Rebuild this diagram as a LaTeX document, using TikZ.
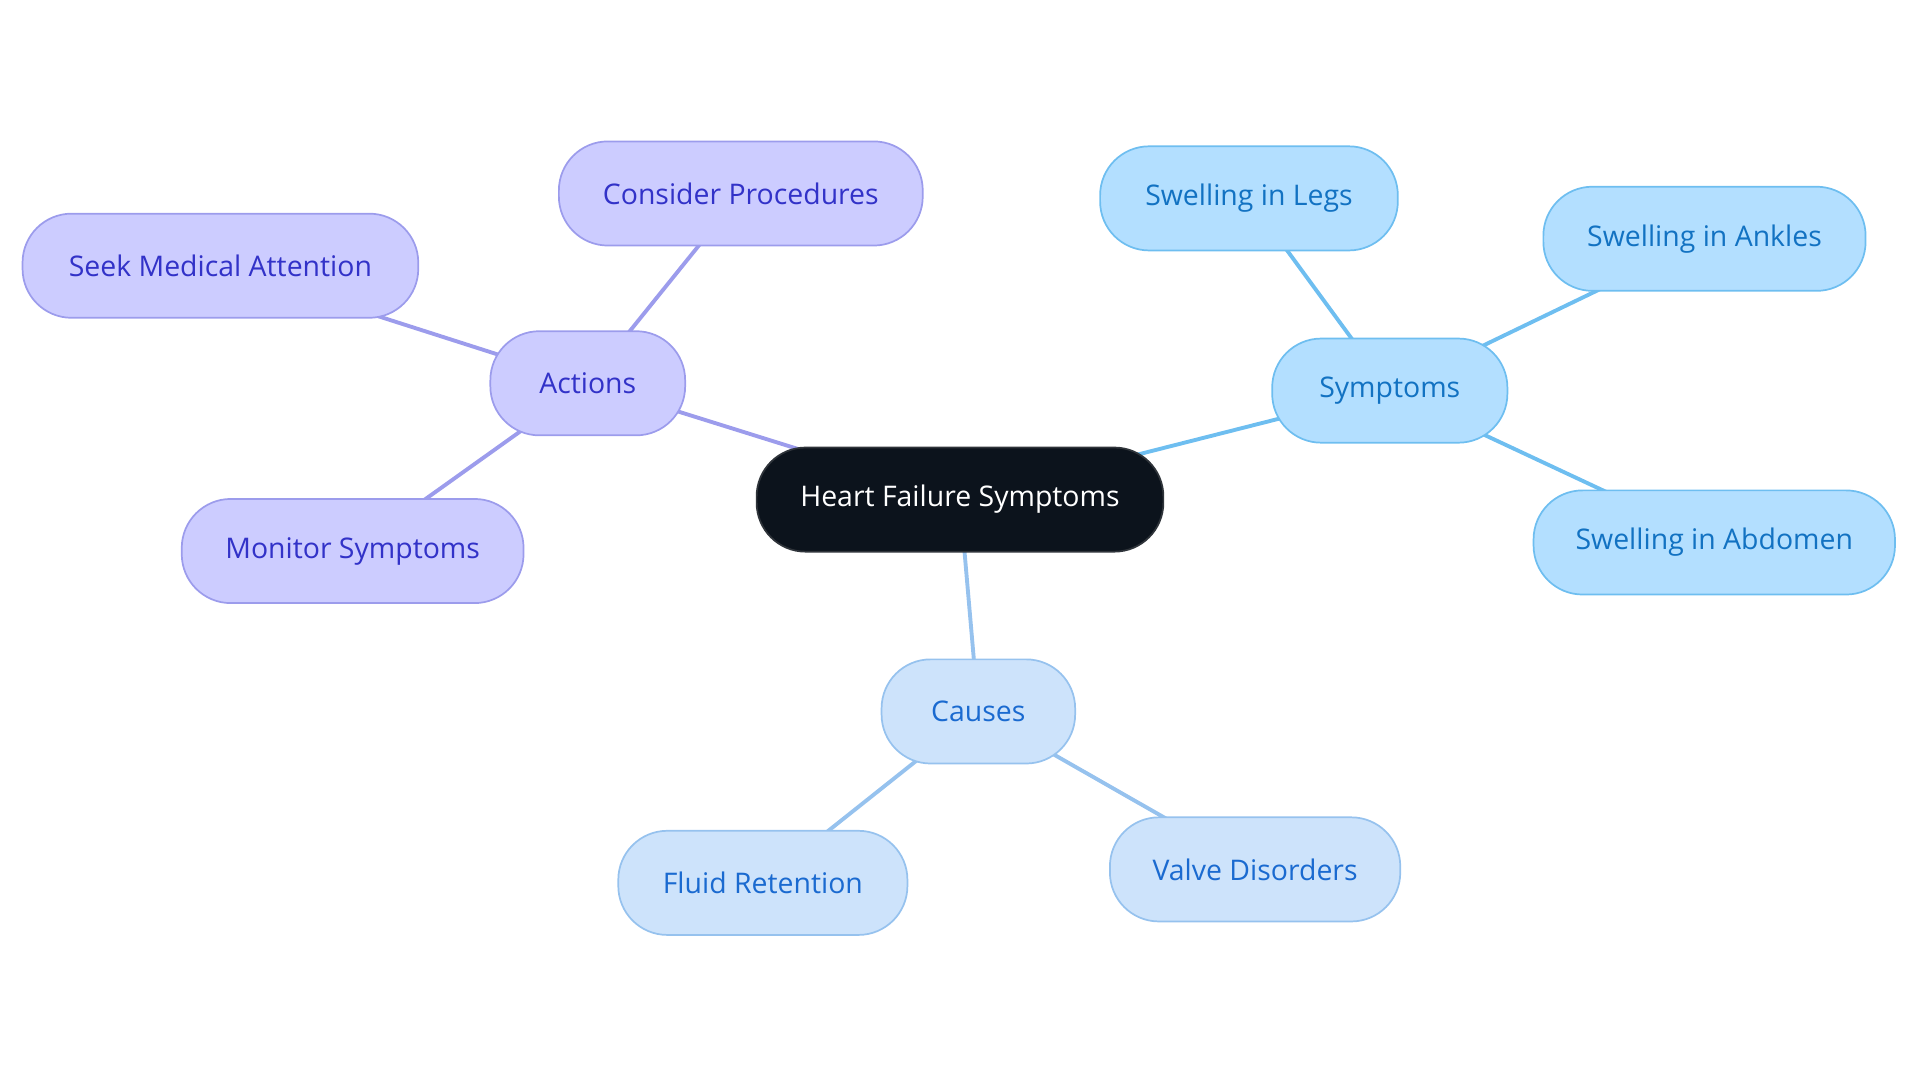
\documentclass[tikz,border=0pt]{standalone}
\usepackage{fontspec}
\setmainfont{Open Sans}
\usetikzlibrary{backgrounds}
\definecolor{aF}{HTML}{CCCCFF}\definecolor{aD}{HTML}{9C9CEC}\definecolor{aT}{HTML}{3232C8}
\definecolor{sF}{HTML}{B3DFFF}\definecolor{sD}{HTML}{6EBEF0}\definecolor{sT}{HTML}{1272C2}
\definecolor{cF}{HTML}{CDE3FB}\definecolor{cD}{HTML}{96C2EE}\definecolor{cT}{HTML}{1A6AD0}
\definecolor{root}{HTML}{0C131C}
\begin{document}
\begin{tikzpicture}[x=0.01cm,y=-0.01cm,
 b/.style={rounded corners=0.4cm,minimum height=0.85cm,font=\fontsize{6.6pt}{8pt}\selectfont,line width=0.4pt,inner sep=0pt},
 A/.style={b,fill=aF,draw=aD,text=aT},
 S/.style={b,fill=sF,draw=sD,text=sT},
 C/.style={b,fill=cF,draw=cD,text=cT},
 e/.style={line width=0.9pt}]
\useasboundingbox (0,0) rectangle (1568,884);
\node[b,fill=root,draw=root!70!gray,text=white,minimum width=3.32cm] (r) at (784,408) {Heart Failure Symptoms};
\node[A,minimum width=1.59cm] (act) at (480,313) {Actions};
\node[A,minimum width=2.97cm] (cp) at (605,158) {Consider Procedures};
\node[A,minimum width=3.23cm] (sm) at (180,217) {Seek Medical Attention};
\node[A,minimum width=2.79cm] (ms) at (288,450) {Monitor Symptoms};
\node[S,minimum width=1.92cm] (sym) at (1135,319) {Symptoms};
\node[S,minimum width=2.43cm] (sl) at (1020,162) {Swelling in Legs};
\node[S,minimum width=2.63cm] (sa) at (1392,195) {Swelling in Ankles};
\node[S,minimum width=2.95cm] (sb) at (1400,443) {Swelling in Abdomen};
\node[C,minimum width=1.58cm] (cau) at (799,581) {Causes};
\node[C,minimum width=2.36cm] (fr) at (623,721) {Fluid Retention};
\node[C,minimum width=2.37cm] (vd) at (1025,710) {Valve Disorders};
\begin{scope}[on background layer]
\draw[e,aD] (r.center)--(act.center) (act.center)--(cp.center) (act.center)--(sm.center) (act.center)--(ms.center);
\draw[e,sD] (r.center)--(sym.center) (sym.center)--(sl.center) (sym.center)--(sa.center) (sym.center)--(sb.center);
\draw[e,cD] (r.center)--(cau.center) (cau.center)--(fr.center) (cau.center)--(vd.center);
\end{scope}
\end{tikzpicture}
\end{document}
